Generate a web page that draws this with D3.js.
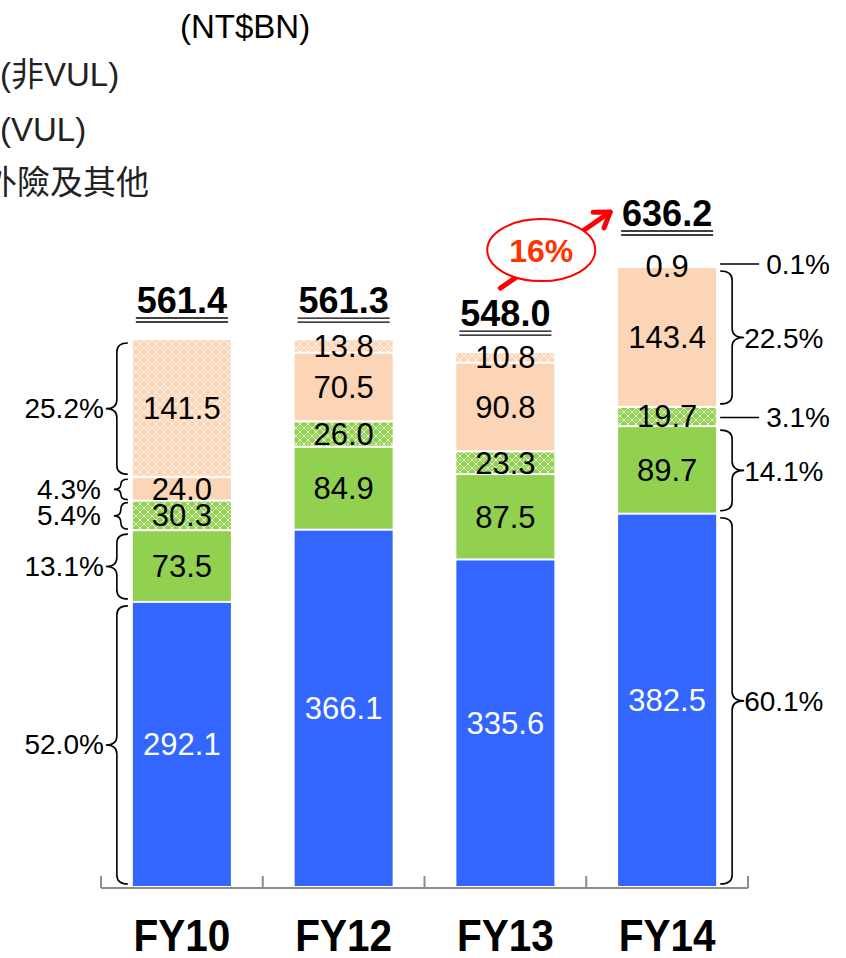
<!DOCTYPE html>
<html>
<head>
<meta charset="utf-8">
<script src="https://cdn.jsdelivr.net/npm/d3@7"></script>
<style>
  body { margin: 0; background: #fff; }
  svg { display: block; font-family: "Liberation Sans", Arial, "Noto Sans CJK TC", sans-serif; }
</style>
</head>
<body>
<div id="chart"></div>
<script>
// ---------------------------------------------------------------------------
// data (NT$BN)
// ---------------------------------------------------------------------------
var categories = ["FY10", "FY12", "FY13", "FY14"];
// stack tiers, bottom to top
var tierBlue       = [292.1, 366.1, 335.6, 382.5];
var tierGreen      = [73.5, 84.9, 87.5, 89.7];
var tierGreenHatch = [30.3, 26.0, 23.3, 19.7];
var tierPeach      = [24.0, 70.5, 90.8, 143.4];
var tierPeachHatch = [141.5, 13.8, 10.8, 0.9];
var totals         = [561.4, 561.3, 548.0, 636.2];
var unitLabel      = "(NT$BN)";
var legendLabels   = ["(非VUL)", "(VUL)", "外險及其他"];
var growthLabel    = "16%";

// ---------------------------------------------------------------------------
// setup
// ---------------------------------------------------------------------------
var width = 846, height = 958;
var baseY = 888;
var keys = ["blue", "green", "greenHatch", "peach", "peachHatch"];
var tiers = [tierBlue, tierGreen, tierGreenHatch, tierPeach, tierPeachHatch];

var rows = categories.map(function(c, i) {
    var r = { cat: c };
    keys.forEach(function(k, j) { r[k] = tiers[j][i]; });
    return r;
});

var svg = d3.select("#chart").append("svg")
    .attr("width", width)
    .attr("height", height);

// patterns for the hatched tiers
var defs = svg.append("defs");
function addPattern(id, bg) {
    var p = defs.append("pattern")
        .attr("id", id)
        .attr("patternUnits", "userSpaceOnUse")
        .attr("width", 8).attr("height", 8);
    p.append("rect").attr("width", 8).attr("height", 8).attr("fill", bg);
    p.append("path")
        .attr("d", "M0,4 L4,0 L8,4 L4,8 Z")
        .attr("fill", "none").attr("stroke", "#fff").attr("stroke-width", 1).attr("opacity", 0.75);
    p.append("circle").attr("cx", 4).attr("cy", 4).attr("r", 0.9).attr("fill", "#fff").attr("opacity", 0.6);
}
addPattern("hatch-peach", "#FBD5B5");
addPattern("hatch-green", "#92D050");

var fills = {
    blue: "#3366FF",
    green: "#92D050",
    greenHatch: "url(#hatch-green)",
    peach: "#FBD5B5",
    peachHatch: "url(#hatch-peach)"
};

var x = d3.scaleBand()
    .domain(categories)
    .range([101, 748])
    .paddingInner(0.394)
    .paddingOuter(0.197);

var y = d3.scaleLinear()
    .domain([0, 650])
    .range([baseY, baseY - 650 * 0.976]);

var stack = d3.stack().keys(keys)(rows);

// ---------------------------------------------------------------------------
// bars
// ---------------------------------------------------------------------------
var layers = svg.append("g").selectAll("g")
    .data(stack)
    .join("g")
    .attr("fill", function(d) { return fills[d.key]; });

layers.selectAll("rect")
    .data(function(d) { return d; })
    .join("rect")
    .attr("x", function(d) { return x(d.data.cat); })
    .attr("width", x.bandwidth())
    .attr("y", function(d) { return y(d[1]); })
    .attr("height", function(d) { return Math.max(0, y(d[0]) - y(d[1]) - 2); });

// value labels
var labelG = svg.append("g")
    .attr("font-size", 31)
    .attr("text-anchor", "middle");
stack.forEach(function(layer) {
    layer.forEach(function(d) {
        labelG.append("text")
            .attr("x", x(d.data.cat) + x.bandwidth() / 2)
            .attr("y", (y(d[0]) + y(d[1])) / 2 - 1)
            .attr("dy", "0.35em")
            .attr("fill", layer.key === "blue" ? "#fff" : "#000")
            .text(d3.format(".1f")(d[1] - d[0]));
    });
});

// totals with double underline
categories.forEach(function(c, i) {
    var topV = tierPeachHatch[i];
    var lift = (y(0) - y(topV)) < 4 ? 41 : 27;
    var ty = y(totals[i]) - lift;
    var cx = x(c) + x.bandwidth() / 2;
    var t = svg.append("text")
        .attr("x", cx).attr("y", ty)
        .attr("text-anchor", "middle")
        .attr("font-size", 36).attr("font-weight", "bold")
        .text(d3.format(".1f")(totals[i]));
    var w = t.node().getComputedTextLength();
    [5, 9].forEach(function(off) {
        svg.append("line")
            .attr("x1", cx - w / 2 - 1).attr("x2", cx + w / 2 + 1)
            .attr("y1", ty + off).attr("y2", ty + off)
            .attr("stroke", "#000").attr("stroke-width", 1.4);
    });
});

// ---------------------------------------------------------------------------
// axis
// ---------------------------------------------------------------------------
var step = x.step();
var axisG = svg.append("g").attr("stroke", "#8c8c8c").attr("stroke-width", 2);
axisG.append("line")
    .attr("x1", x.range()[0]).attr("x2", x.range()[1])
    .attr("y1", baseY).attr("y2", baseY);
d3.range(categories.length + 1).forEach(function(i) {
    var tx = x.range()[0] + i * step;
    axisG.append("line")
        .attr("x1", tx).attr("x2", tx)
        .attr("y1", baseY).attr("y2", baseY - 12);
});

categories.forEach(function(c) {
    svg.append("text")
        .attr("transform", "translate(" + (x(c) + x.bandwidth() / 2) + ",951) scale(0.9,1)")
        .attr("text-anchor", "middle")
        .attr("font-size", 45).attr("font-weight", "bold")
        .text(c);
});

// ---------------------------------------------------------------------------
// share-of-total braces (first and last bar)
// ---------------------------------------------------------------------------
function bracePath(xb, y0, y1, w, dir) {
    var xm = xb + dir * w * 0.5, xt = xb + dir * w, ym = (y0 + y1) / 2;
    var r = Math.min(9, (y1 - y0) / 4);
    return "M" + xb + "," + y0 +
        " Q" + xm + "," + y0 + " " + xm + "," + (y0 + r) +
        " L" + xm + "," + (ym - r) +
        " Q" + xm + "," + ym + " " + xt + "," + ym +
        " Q" + xm + "," + ym + " " + xm + "," + (ym + r) +
        " L" + xm + "," + (y1 - r) +
        " Q" + xm + "," + y1 + " " + xb + "," + y1;
}

var pctG = svg.append("g").attr("font-size", 28);
function drawShares(ci, side) {
    var cat = categories[ci];
    var left = x(cat), right = x(cat) + x.bandwidth();
    stack.forEach(function(layer) {
        var d = layer[ci];
        var v = d[1] - d[0];
        var pct = d3.format(".1f")(v / totals[ci] * 100) + "%";
        var y0 = y(d[1]), y1 = y(d[0]);
        var h = y1 - y0, ym = (y0 + y1) / 2;
        if (side < 0) {
            var small = h < 35;
            svg.append("path")
                .attr("d", small ? bracePath(left - 5, y0 + 1, y1 - 2, 14, -1)
                                 : bracePath(left - 5, y0 + 3, y1 - 4, 22, -1))
                .attr("fill", "none").attr("stroke", "#000").attr("stroke-width", 1.6);
            pctG.append("text")
                .attr("x", left - (small ? 32 : 29)).attr("y", ym - 1).attr("dy", "0.35em")
                .attr("text-anchor", "end").text(pct);
        } else if (h < 22) {
            var ly = y0 < y(totals[ci]) + 2 ? y0 - 3 : ym;
            svg.append("line")
                .attr("x1", right + 4).attr("x2", right + 43)
                .attr("y1", ly).attr("y2", ly)
                .attr("stroke", "#000").attr("stroke-width", 1.6);
            pctG.append("text")
                .attr("x", right + 50).attr("y", ly).attr("dy", "0.35em")
                .text(pct);
        } else {
            svg.append("path")
                .attr("d", bracePath(right + 4, y0 + 3, y1 - 4, 24, 1))
                .attr("fill", "none").attr("stroke", "#000").attr("stroke-width", 1.6);
            pctG.append("text")
                .attr("x", right + 28).attr("y", ym).attr("dy", "0.35em")
                .text(pct);
        }
    });
}
drawShares(0, -1);
drawShares(categories.length - 1, 1);

// ---------------------------------------------------------------------------
// growth callout FY13 -> FY14
// ---------------------------------------------------------------------------
var c13 = x(categories[2]) + x.bandwidth() / 2;
var top13 = y(totals[2]), top14 = y(totals[3]);
var x14 = x(categories[3]);
var ax0 = c13 - 5, ay0 = top13 - 65, ax1 = x14 - 8, ay1 = top14 - 55;
var ang = Math.atan2(ay1 - ay0, ax1 - ax0);
var head = 17;
var arrowG = svg.append("g")
    .attr("stroke", "#FF0000").attr("stroke-width", 5).attr("fill", "none")
    .attr("stroke-linecap", "round").attr("stroke-linejoin", "round");
arrowG.append("line")
    .attr("x1", ax0).attr("y1", ay0).attr("x2", ax1).attr("y2", ay1);
arrowG.append("path")
    .attr("d", "M" + (ax1 - head * Math.cos(ang - 0.6)) + "," + (ay1 - head * Math.sin(ang - 0.6)) +
        " L" + ax1 + "," + ay1 +
        " L" + (ax1 - head * Math.cos(ang + 0.6)) + "," + (ay1 - head * Math.sin(ang + 0.6)));

var ex = (ax0 + ax1) / 2 - 14, ey = (ay0 + ay1) / 2;
svg.append("ellipse")
    .attr("cx", ex).attr("cy", ey).attr("rx", 54).attr("ry", 31)
    .attr("fill", "#fff").attr("stroke", "#FF0000").attr("stroke-width", 2);
svg.append("text")
    .attr("x", ex).attr("y", ey + 1).attr("dy", "0.35em")
    .attr("text-anchor", "middle")
    .attr("font-size", 32).attr("font-weight", "bold")
    .attr("fill", "#FF3300")
    .text(growthLabel);

// ---------------------------------------------------------------------------
// unit + legend text (legend sits partly off the left edge)
// ---------------------------------------------------------------------------
svg.append("text")
    .attr("x", 180).attr("y", 38)
    .attr("font-size", 33)
    .text(unitLabel);
var legendX = [0, 0, -16];
var legendY = [86, 141, 194];
legendLabels.forEach(function(l, i) {
    svg.append("text")
        .attr("x", legendX[i]).attr("y", legendY[i])
        .attr("font-size", 33)
        .attr("fill", "#222")
        .text(l);
});
</script>
</body>
</html>
